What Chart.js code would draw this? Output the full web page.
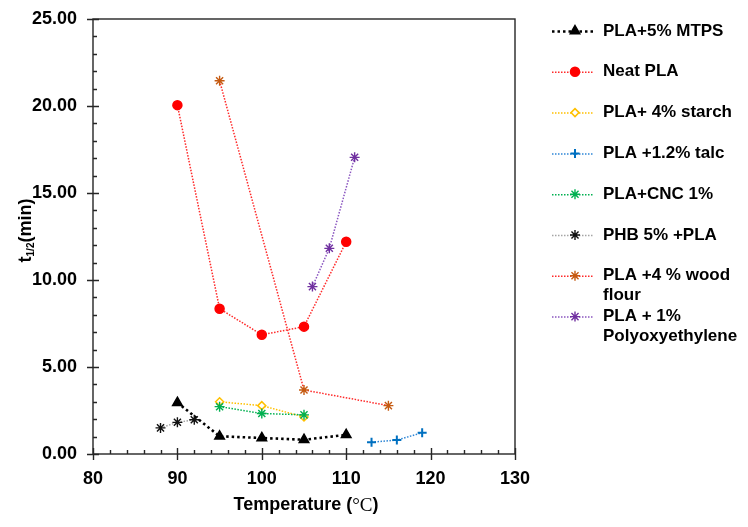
<!DOCTYPE html>
<html>
<head>
<meta charset="utf-8">
<script src="https://cdn.jsdelivr.net/npm/chart.js@4/dist/chart.umd.min.js"></script>
<style>
  html, body { margin: 0; padding: 0; background: #fff; }
  #wrap { width: 748px; height: 527px; }
</style>
</head>
<body>
<div id="wrap"><canvas id="chart" width="748" height="527"></canvas></div>
<script>
// --- Data ---
const mtpsT = [90, 95, 100, 105, 110];
const mtpsY = [2.95, 1.02, 0.92, 0.82, 1.1];
const neatT = [90, 95, 100, 105, 110];
const neatY = [20.05, 8.35, 6.85, 7.32, 12.2];
const starchT = [95, 100, 105];
const starchY = [3.0, 2.78, 2.13];
const talcT = [113, 116, 119];
const talcY = [0.68, 0.8, 1.22];
const cncT = [95, 100, 105];
const cncY = [2.72, 2.33, 2.25];
const phbT = [88, 90, 92];
const phbY = [1.5, 1.82, 1.97];
const woodT = [95, 105, 115];
const woodY = [21.45, 3.68, 2.78];
const peoT = [106, 108, 111];
const peoY = [9.62, 11.82, 17.05];

const seriesLabels = [
    "PLA+5% MTPS", "Neat PLA", "PLA+ 4% starch", "PLA +1.2% talc",
    "PLA+CNC 1%", "PHB 5% +PLA", ["PLA +4 % wood", "flour"], ["PLA + 1%", "Polyoxyethylene"]
];
const yTicks = [0, 5, 10, 15, 20, 25];
const xTicks = [80, 90, 100, 110, 120, 130];

const FONT = "'Liberation Sans', Arial, sans-serif";

function toPoints(xs, ys) {
    return xs.map((x, i) => ({ x: x, y: ys[i] }));
}

function makeSet(idx, xs, ys, style) {
    return Object.assign({
        label: Array.isArray(seriesLabels[idx]) ? seriesLabels[idx].join(" ") : seriesLabels[idx],
        data: toPoints(xs, ys),
        showLine: true,
        borderWidth: 1.5,
        borderDash: [1.5, 1.5],
        pointBorderWidth: 1.5,
        order: -idx
    }, style);
}

const starStyle = { pointStyle: "star", pointRadius: 5, pointBorderWidth: 1.4, pointBackgroundColor: "rgba(0,0,0,0)" };

const datasets = [
    makeSet(0, mtpsT, mtpsY, {
        borderColor: "#000", borderWidth: 2.6, borderDash: [2.5, 3],
        pointStyle: "triangle", pointRadius: 5.5, pointBackgroundColor: "#000", pointBorderColor: "#000"
    }),
    makeSet(1, neatT, neatY, {
        borderColor: "#ff2a2a",
        pointStyle: "circle", pointRadius: 4.5, pointBackgroundColor: "#ff0000", pointBorderColor: "#ff0000"
    }),
    makeSet(2, starchT, starchY, {
        borderColor: "#ffc000",
        pointStyle: "rectRot", pointRadius: 4, pointBackgroundColor: "#fff", pointBorderColor: "#ffc000"
    }),
    makeSet(3, talcT, talcY, {
        borderColor: "#2e86d6",
        pointStyle: "cross", pointRadius: 4.5, pointBorderColor: "#0070c0", pointBorderWidth: 2
    }),
    makeSet(4, cncT, cncY, Object.assign({ borderColor: "#00b050", pointBorderColor: "#00b050" }, starStyle)),
    makeSet(5, phbT, phbY, Object.assign({ borderColor: "#a5a5a5", pointBorderColor: "#111" }, starStyle)),
    makeSet(6, woodT, woodY, Object.assign({ borderColor: "#ff2a2a", pointBorderColor: "#c55a11" }, starStyle)),
    makeSet(7, peoT, peoY, Object.assign({ borderColor: "#8a55c0", pointBorderColor: "#7030a0" }, starStyle))
];

// --- Axes frame, ticks, titles and legend drawn on the canvas ---
const framePlugin = {
    id: "frameAndLegend",
    afterDraw(chart) {
        const ctx = chart.ctx;
        const a = chart.chartArea;
        const xs = chart.scales.x;
        const ys = chart.scales.y;

        ctx.save();
        ctx.strokeStyle = "#262626";
        ctx.lineWidth = 1.4;
        ctx.strokeRect(a.left, a.top, a.right - a.left, a.bottom - a.top);

        ctx.beginPath();
        for (let v = 0; v <= 25; v += 1) {
            const py = Math.round(ys.getPixelForValue(v)) + 0.5;
            const major = v % 5 === 0;
            ctx.moveTo(a.left - (major ? 6 : 0), py);
            ctx.lineTo(a.left + (major ? 6 : 4), py);
        }
        for (let v = 80; v <= 130; v += 2) {
            const px = Math.round(xs.getPixelForValue(v)) + 0.5;
            const major = v % 10 === 0;
            ctx.moveTo(px, a.bottom + (major ? 6 : 0));
            ctx.lineTo(px, a.bottom - (major ? 6 : 4));
        }
        ctx.stroke();

        // y title with subscript
        ctx.fillStyle = "#000";
        ctx.textBaseline = "middle";
        ctx.translate(26, (a.top + a.bottom) / 2 - 6);
        ctx.rotate(-Math.PI / 2);
        const big = "bold 18px " + FONT;
        const small = "bold 10px " + FONT;
        ctx.font = big;
        const wT = ctx.measureText("t").width;
        const wM = ctx.measureText("(min)").width;
        ctx.font = small;
        const wS = ctx.measureText("1/2").width;
        let x0 = -(wT + wS + wM) / 2;
        ctx.font = big;
        ctx.textAlign = "left";
        ctx.fillText("t", x0, 0);
        ctx.font = small;
        ctx.fillText("1/2", x0 + wT, 5);
        ctx.font = big;
        ctx.fillText("(min)", x0 + wT + wS, 0);
        ctx.setTransform(1, 0, 0, 1, 0, 0);

        // x title, degree sign in a serif face as in the source
        const serif = "19px 'Liberation Serif', 'Times New Roman', serif";
        const p1 = "Temperature (";
        const p2 = "\u00B0C";
        const p3 = ")";
        ctx.font = big;
        const w1 = ctx.measureText(p1).width;
        const w3 = ctx.measureText(p3).width;
        ctx.font = serif;
        const w2 = ctx.measureText(p2).width;
        let tx = (a.left + a.right) / 2 + 2 - (w1 + w2 + w3) / 2;
        const ty = 505;
        ctx.font = big;
        ctx.fillText(p1, tx, ty);
        ctx.font = serif;
        ctx.fillText(p2, tx + w1, ty + 1);
        ctx.font = big;
        ctx.fillText(p3, tx + w1 + w2, ty);

        // legend
        const lx0 = 552, lx1 = 594, mx = 575, textX = 603;
        let ly = 31;
        chart.data.datasets.forEach((ds, i) => {
            ctx.save();
            ctx.strokeStyle = ds.borderColor;
            ctx.lineWidth = ds.borderWidth;
            ctx.setLineDash(ds.borderDash);
            ctx.beginPath();
            ctx.moveTo(lx0, ly + 0.5);
            ctx.lineTo(lx1, ly + 0.5);
            ctx.stroke();
            ctx.setLineDash([]);
            ctx.strokeStyle = ds.pointBorderColor;
            ctx.fillStyle = ds.pointBackgroundColor || ds.pointBorderColor;
            ctx.lineWidth = ds.pointBorderWidth;
            Chart.helpers.drawPoint(ctx, {
                pointStyle: ds.pointStyle,
                radius: ds.pointRadius,
                rotation: 0,
                borderWidth: ds.pointBorderWidth
            }, mx, ly);
            ctx.restore();

            ctx.fillStyle = "#000";
            ctx.font = "bold 17px " + FONT;
            ctx.textAlign = "left";
            ctx.textBaseline = "middle";
            const lines = Array.isArray(seriesLabels[i]) ? seriesLabels[i] : [seriesLabels[i]];
            lines.forEach((t, k) => ctx.fillText(t, textX, ly + k * 20));
            ly += 40.8;
        });
        ctx.restore();
    }
};

const ctx = document.getElementById("chart").getContext("2d");
new Chart(ctx, {
    type: "scatter",
    data: { datasets: datasets },
    options: {
        responsive: false,
        animation: false,
        layout: { padding: { top: 19, right: 233, left: 0, bottom: 0 } },
        plugins: {
            legend: { display: false },
            tooltip: { enabled: false }
        },
        scales: {
            x: {
                type: "linear",
                min: 80,
                max: 130,
                afterBuildTicks: (scale) => { scale.ticks = xTicks.map(v => ({ value: v })); },
                afterFit: (scale) => { scale.height = 73; scale.paddingLeft = 0; scale.paddingRight = 0; },
                ticks: {
                    color: "#000",
                    font: { family: FONT, size: 18, weight: "bold" },
                    padding: 14
                },
                grid: { display: false, drawTicks: false },
                border: { display: false }
            },
            y: {
                type: "linear",
                min: 0,
                max: 25,
                afterBuildTicks: (scale) => { scale.ticks = yTicks.map(v => ({ value: v })); },
                afterFit: (scale) => { scale.width = 93; scale.paddingTop = 0; scale.paddingBottom = 0; },
                ticks: {
                    color: "#000",
                    font: { family: FONT, size: 18, weight: "bold" },
                    padding: 16,
                    callback: (v) => Number(v).toFixed(2)
                },
                grid: { display: false, drawTicks: false },
                border: { display: false }
            }
        }
    },
    plugins: [framePlugin]
});
</script>
</body>
</html>
